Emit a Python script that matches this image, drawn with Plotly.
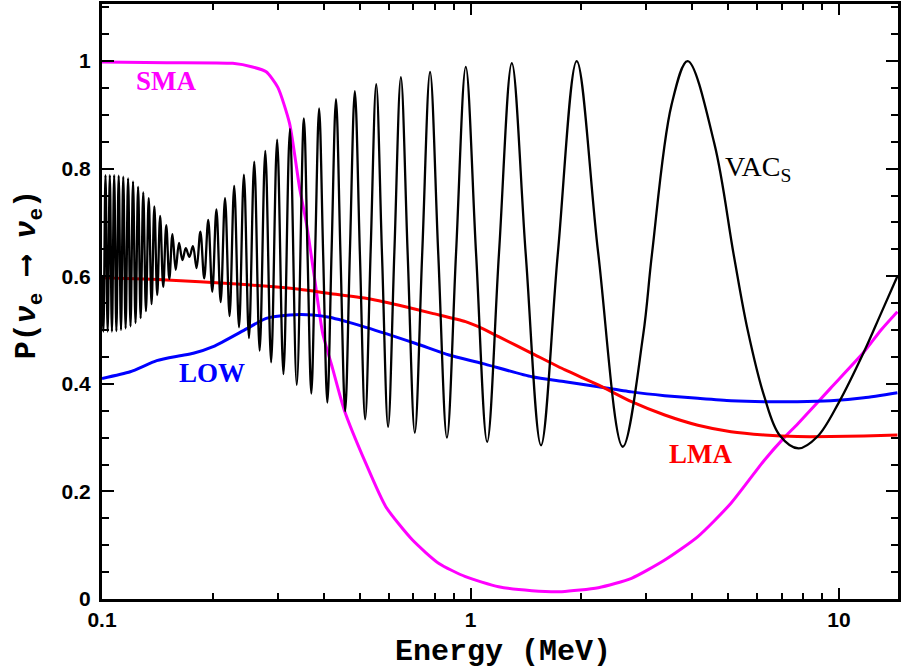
import plotly.graph_objects as go

# ---------------- data ----------------
sma_energy = [0.1, 0.1498, 0.2264, 0.2562, 0.279, 0.300, 0.3228, 0.3435, 0.3587, 0.3769,
              0.397, 0.4218, 0.4545, 0.520, 0.589, 0.695, 0.821, 0.969, 1.192, 1.467,
              1.768, 2.222, 2.734, 3.365, 4.14, 5.09, 6.27, 7.10, 7.71, 9.49, 11.68, 13.0, 14.4]
sma_prob = [0.998, 0.997, 0.9957, 0.989, 0.980, 0.951, 0.884, 0.765, 0.698, 0.599,
            0.494, 0.43, 0.351, 0.252, 0.1716, 0.110, 0.066, 0.0415, 0.0229, 0.0155,
            0.0136, 0.021, 0.0385, 0.0725, 0.116, 0.178, 0.258, 0.30, 0.325, 0.392, 0.459, 0.50, 0.534]

lma_energy = [0.1, 0.1498, 0.2264, 0.3435, 0.414, 0.520, 0.640, 0.7874, 0.969, 1.075,
              1.192, 1.467, 1.806, 2.222, 2.734, 3.365, 4.14, 5.09, 6.27, 7.71, 9.49, 11.68, 14.4]
lma_prob = [0.597, 0.593, 0.586, 0.5757, 0.568, 0.559, 0.546, 0.531, 0.5155, 0.503,
            0.4876, 0.4567, 0.4257, 0.398, 0.3667, 0.342, 0.323, 0.311, 0.305, 0.302, 0.302, 0.303, 0.305]

low_energy = [0.1, 0.1193, 0.1408, 0.1628, 0.1769, 0.2002, 0.2465, 0.279, 0.3228, 0.373,
              0.414, 0.520, 0.7101, 0.8738, 1.075, 1.467, 1.806, 2.222, 2.734, 3.365,
              4.14, 5.09, 6.27, 7.71, 9.49, 11.68, 14.4]
low_prob = [0.410, 0.4225, 0.443, 0.452, 0.4567, 0.469, 0.502, 0.5217, 0.528, 0.528,
            0.5236, 0.505, 0.475, 0.4535, 0.438, 0.413, 0.404, 0.3946, 0.385, 0.378,
            0.373, 0.3686, 0.3667, 0.3667, 0.3686, 0.374, 0.3835]

vac_energy = [0.1000, 0.1009, 0.1022, 0.1036, 0.1050, 0.1064, 0.1079, 0.1094, 0.1110, 0.1126,
              0.1142, 0.1159, 0.1177, 0.1195, 0.1214, 0.1233, 0.1253, 0.1273, 0.1294, 0.1316,
              0.1339, 0.1363, 0.1387, 0.1412, 0.1438, 0.1466, 0.1494, 0.1523, 0.1553, 0.1585,
              0.1618, 0.1653, 0.1688, 0.1726, 0.1765, 0.1806, 0.1849, 0.1894, 0.1942, 0.1992,
              0.2044, 0.2099, 0.2157, 0.2219, 0.2284, 0.2354, 0.2427, 0.2505, 0.2589, 0.2678,
              0.2774, 0.2877, 0.2987, 0.3107, 0.3236, 0.3377, 0.3530, 0.3613, 0.3698, 0.3789,
              0.3883, 0.3983, 0.4088, 0.4198, 0.4315, 0.4438, 0.4569, 0.4707, 0.4854, 0.5011,
              0.5178, 0.5357, 0.5548, 0.5753, 0.5975, 0.6214, 0.6472, 0.6754, 0.7061, 0.7397,
              0.7767, 0.8176, 0.8630, 0.9138, 0.9709, 1.0356, 1.1096, 1.195, 1.2945, 1.412,
              1.5534, 1.726, 1.9417, 2.219, 2.589, 2.94, 3.107, 3.51, 3.8835, 4.59,
              5.178, 5.65, 6.27, 6.89, 7.767, 8.74, 10.0, 11.68, 13.0, 14.4]
vac_prob = [0.600, 0.497, 0.788, 0.497, 0.788, 0.497, 0.788, 0.498, 0.787, 0.500,
            0.785, 0.503, 0.782, 0.507, 0.776, 0.513, 0.766, 0.522, 0.756, 0.535,
            0.745, 0.548, 0.730, 0.565, 0.712, 0.580, 0.695, 0.595, 0.678, 0.612,
            0.662, 0.630, 0.652, 0.636, 0.656, 0.615, 0.683, 0.596, 0.7045, 0.571,
            0.724, 0.552, 0.745, 0.526, 0.768, 0.505, 0.789, 0.485, 0.813, 0.4615,
            0.833, 0.440, 0.854, 0.418, 0.874, 0.398, 0.8935, 0.638, 0.382, 0.647,
            0.912, 0.6385, 0.365, 0.647, 0.929, 0.639, 0.349, 0.6465, 0.944, 0.639,
            0.334, 0.6455, 0.957, 0.6385, 0.320, 0.645, 0.970, 0.6395, 0.309, 0.6445,
            0.980, 0.640, 0.300, 0.6445, 0.989, 0.6405, 0.292, 0.644, 0.996, 0.641,
            0.2857, 0.643, 1.0, 0.645, 0.283, 0.49, 0.641, 0.918, 1.0, 0.846,
            0.640, 0.50, 0.376, 0.305, 0.280, 0.302, 0.366, 0.459, 0.531, 0.600]

x_major = [0.1, 1, 10]
x_major_text = ["0.1", "1", "10"]
x_minor = [0.2, 0.3, 0.4, 0.5, 0.6, 0.7, 0.8, 0.9, 2, 3, 4, 5, 6, 7, 8, 9]
y_major = [0, 0.2, 0.4, 0.6, 0.8, 1.0]
y_major_text = ["0", "0.2", "0.4", "0.6", "0.8", "1"]

assert len(vac_energy) == len(vac_prob)
assert len(sma_energy) == len(sma_prob)
assert len(lma_energy) == len(lma_prob)
assert len(low_energy) == len(low_prob)

# ---------------- figure ----------------
fig = go.Figure()
fig.add_trace(go.Scatter(x=sma_energy, y=sma_prob, mode="lines",
                         line=dict(color="#ff00ff", width=3, shape="spline", smoothing=0.6)))
fig.add_trace(go.Scatter(x=low_energy, y=low_prob, mode="lines",
                         line=dict(color="#0000ff", width=3, shape="spline", smoothing=0.6)))
fig.add_trace(go.Scatter(x=lma_energy, y=lma_prob, mode="lines",
                         line=dict(color="#ff0000", width=3, shape="spline", smoothing=0.6)))
fig.add_trace(go.Scatter(x=vac_energy, y=vac_prob, mode="lines",
                         line=dict(color="#000000", width=2.3, shape="spline", smoothing=1.0)))

tickfont = dict(family="Liberation Sans, Arial, sans-serif", size=21, color="black")

fig.update_layout(
    width=901, height=669,
    margin=dict(l=102, r=0, t=4, b=70),
    paper_bgcolor="white", plot_bgcolor="white",
    showlegend=False,
    xaxis=dict(type="log", range=[-1, 1.16], showline=True, linecolor="black", linewidth=3,
               mirror="allticks", ticks="inside", ticklen=11, tickwidth=2, tickcolor="black",
               tickvals=x_major, ticktext=["<b>%s</b>" % t for t in x_major_text],
               tickfont=tickfont, showgrid=False, zeroline=False, ticklabelstandoff=0,
               minor=dict(tickvals=x_minor, ticks="inside", ticklen=6, tickwidth=2,
                          tickcolor="black", showgrid=False)),
    yaxis=dict(range=[0, 1.106], showline=True, linecolor="black", linewidth=3,
               mirror="allticks", ticks="inside", ticklen=12, tickwidth=2, tickcolor="black",
               tickvals=y_major, ticktext=["<b>%s</b>" % t for t in y_major_text],
               tickfont=tickfont, showgrid=False, zeroline=False, ticklabelstandoff=4,
               minor=dict(dtick=0.05, tick0=0, ticks="inside", ticklen=7, tickwidth=2,
                          tickcolor="black", showgrid=False)),
)

label_font = "Liberation Serif, Times New Roman, serif"
fig.add_annotation(x=-0.826, y=0.962, xref="x", yref="y", text="<b>SMA</b>", showarrow=False,
                   font=dict(family=label_font, size=27, color="#ff00ff"))
fig.add_annotation(x=-0.7005, y=0.42, xref="x", yref="y", text="<b>LOW</b>", showarrow=False,
                   font=dict(family=label_font, size=27, color="#0000ff"))
fig.add_annotation(x=0.6238, y=0.2695, xref="x", yref="y", text="<b>LMA</b>", showarrow=False,
                   font=dict(family=label_font, size=27, color="#ff0000"))
fig.add_annotation(x=0.6846, y=0.80, xref="x", yref="y", text="VAC<sub>S</sub>", showarrow=False,
                   xanchor="left", font=dict(family=label_font, size=28, color="black"))

title_font = dict(family="Liberation Mono, Courier New, monospace", size=30, color="black")
fig.add_annotation(x=0.504, y=-0.089, xref="paper", yref="paper", text="<b>Energy (MeV)</b>",
                   showarrow=False, xanchor="center", yanchor="middle", font=title_font)
fig.add_annotation(x=-0.0926, y=0.5445, xref="paper", yref="paper",
                   text="<b>P(<i>ν</i><sub>e</sub> ⟶ <i>ν</i><sub>e</sub>)</b>",
                   showarrow=False, textangle=-90, xanchor="center", yanchor="middle",
                   font=title_font)

fig.write_html("out.html", config={"displayModeBar": False},
               post_script="document.body.style.margin='0px';document.body.style.overflow='hidden';")
